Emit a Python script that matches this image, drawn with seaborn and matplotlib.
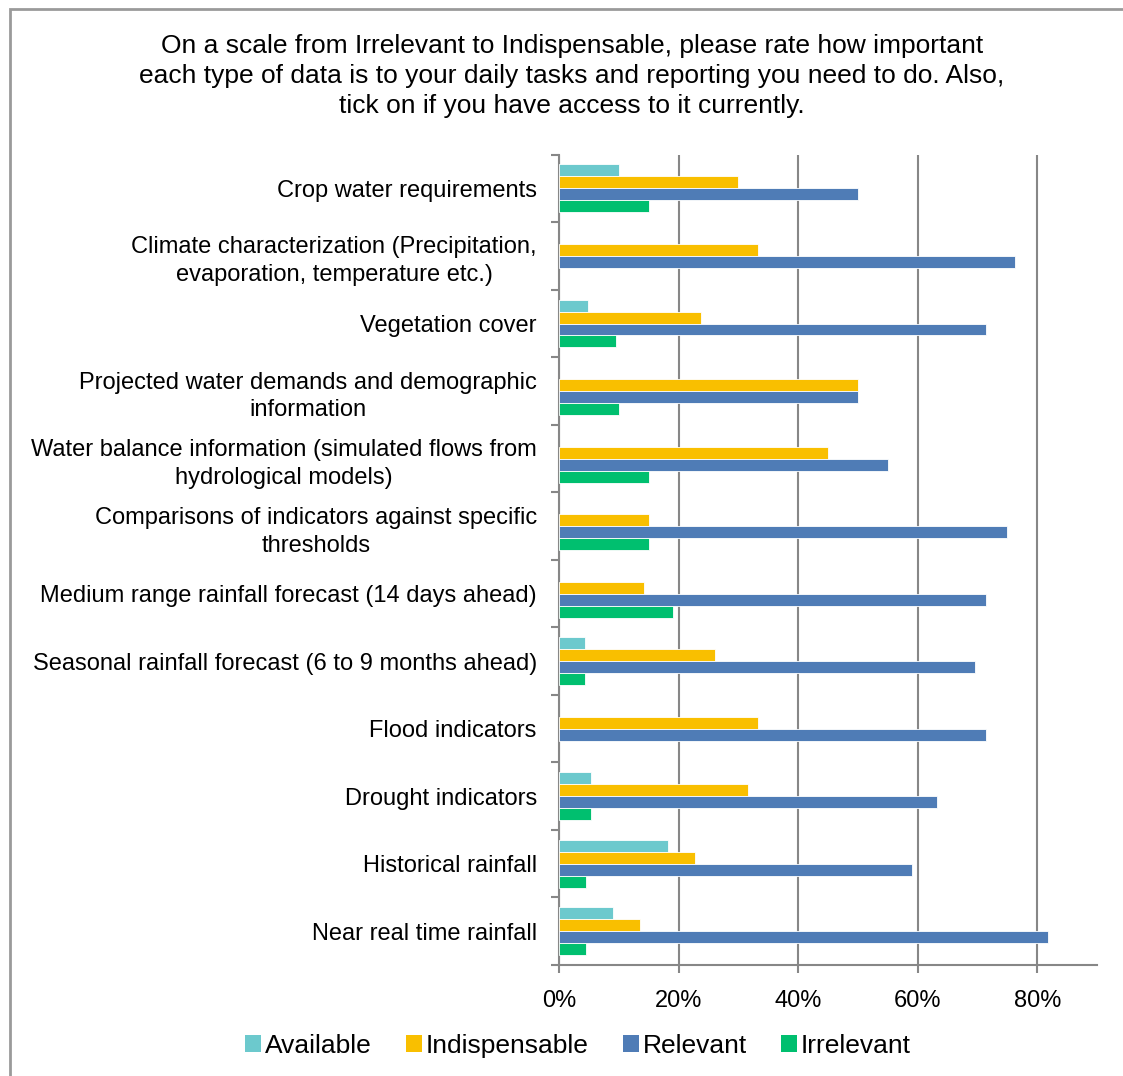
import numpy as np
import pandas as pd
import matplotlib
matplotlib.use("Agg")
import matplotlib.pyplot as plt
from matplotlib.patches import Rectangle
from matplotlib.ticker import PercentFormatter, FixedLocator
from matplotlib.transforms import ScaledTranslation
import seaborn as sns

categories = [
    "Crop water requirements",
    "Climate characterization (Precipitation,\nevaporation, temperature etc.)",
    "Vegetation cover",
    "Projected water demands and demographic\ninformation",
    "Water balance information (simulated flows from\nhydrological models)",
    "Comparisons of indicators against specific\nthresholds",
    "Medium range rainfall forecast (14 days ahead)",
    "Seasonal rainfall forecast (6 to 9 months ahead)",
    "Flood indicators",
    "Drought indicators",
    "Historical rainfall",
    "Near real time rainfall",
]
available     = [0.100, None, 0.048, None, None, None, None, 0.043, None, 0.053, 0.182, 0.091]
indispensable = [0.300, 0.333, 0.238, 0.500, 0.450, 0.150, 0.143, 0.261, 0.333, 0.316, 0.227, 0.136]
relevant      = [0.500, 0.762, 0.714, 0.500, 0.550, 0.750, 0.714, 0.696, 0.714, 0.632, 0.591, 0.818]
irrelevant    = [0.150, None, 0.095, 0.100, 0.150, 0.150, 0.190, 0.043, None, 0.053, 0.045, 0.045]

series_names = ["Available", "Indispensable", "Relevant", "Irrelevant"]
series_colors = ["#6CC9CD", "#F9BF00", "#4F7CB6", "#00BF6F"]
title = ("On a scale from Irrelevant to Indispensable, please rate how important\n"
         "each type of data is to your daily tasks and reporting you need to do. Also,\n"
         "tick on if you have access to it currently.")

rows = []
for name, vals in zip(series_names, [available, indispensable, relevant, irrelevant]):
    for cat, v in zip(categories, vals):
        rows.append({"category": cat, "series": name,
                     "value": np.nan if v is None else v})
df = pd.DataFrame(rows)

sns.set_theme(style="white")
plt.rcParams["font.family"] = ["Liberation Sans", "DejaVu Sans"]
plt.rcParams["text.color"] = "black"

fig = plt.figure(figsize=(11.23, 10.76), dpi=100)
ax = fig.add_axes([559 / 1123, 1 - 965 / 1076, (1097 - 559) / 1123, (965 - 154.7) / 1076])

sns.barplot(data=df, y="category", x="value", hue="series",
            order=categories, hue_order=series_names,
            palette=series_colors, orient="h", width=0.71,
            errorbar=None, ax=ax, edgecolor="white", linewidth=0.6,
            saturation=1, legend=True, zorder=3)

ax.set_xlim(0, 0.9)
ax.set_ylim(len(categories) - 0.5, -0.5)
ax.xaxis.set_major_locator(FixedLocator([0, 0.2, 0.4, 0.6, 0.8]))
ax.xaxis.set_major_formatter(PercentFormatter(1.0, decimals=0))
ax.grid(axis="x", color="#878787", linewidth=1.5, zorder=0)
ax.set_axisbelow(True)
ax.set_xlabel("")
ax.set_ylabel("")

for s in ["top", "right"]:
    ax.spines[s].set_visible(False)
for s in ["left", "bottom"]:
    ax.spines[s].set_color("#878787")
    ax.spines[s].set_linewidth(1.5)

ax.tick_params(axis="x", which="major", length=6, width=1.5, color="#878787",
               labelsize=17, labelcolor="black", pad=12, direction="out", bottom=True)
ax.tick_params(axis="y", which="major", length=0, labelsize=17, labelcolor="black", pad=21)
ax.yaxis.set_minor_locator(FixedLocator(np.arange(-0.5, len(categories), 1.0)))
ax.tick_params(axis="y", which="minor", length=6, width=1.5, color="#878787",
               direction="out", left=True)
offset = ScaledTranslation(7 / 100, 0, fig.dpi_scale_trans)
for lbl in ax.get_yticklabels():
    lbl.set_multialignment("center")
    lbl.set_linespacing(1.35)
    lbl.set_transform(lbl.get_transform() + offset)

leg = ax.get_legend()
leg.remove()
handles = [Rectangle((0, 0), 1, 1, facecolor=c, edgecolor="none") for c in series_colors]
fig.legend(handles, series_names, loc="center", bbox_to_anchor=(578 / 1123, 1 - 1046 / 1076),
           ncol=4, frameon=False, fontsize=19, handlelength=0.6, handleheight=0.6,
           handletextpad=0.15, columnspacing=1.3, labelcolor="black")

fig.text(572 / 1123, 1 - 76 / 1076, title, ha="center", va="center",
         fontsize=19, linespacing=1.3, color="black")

fig.patches.append(Rectangle((9.5 / 1123, -0.1), 1.2, 1.1 - 9.5 / 1076,
                             transform=fig.transFigure, fill=False,
                             edgecolor="#9A9A9A", linewidth=2, zorder=10))

fig.savefig("out.png", dpi=100, facecolor="white")
